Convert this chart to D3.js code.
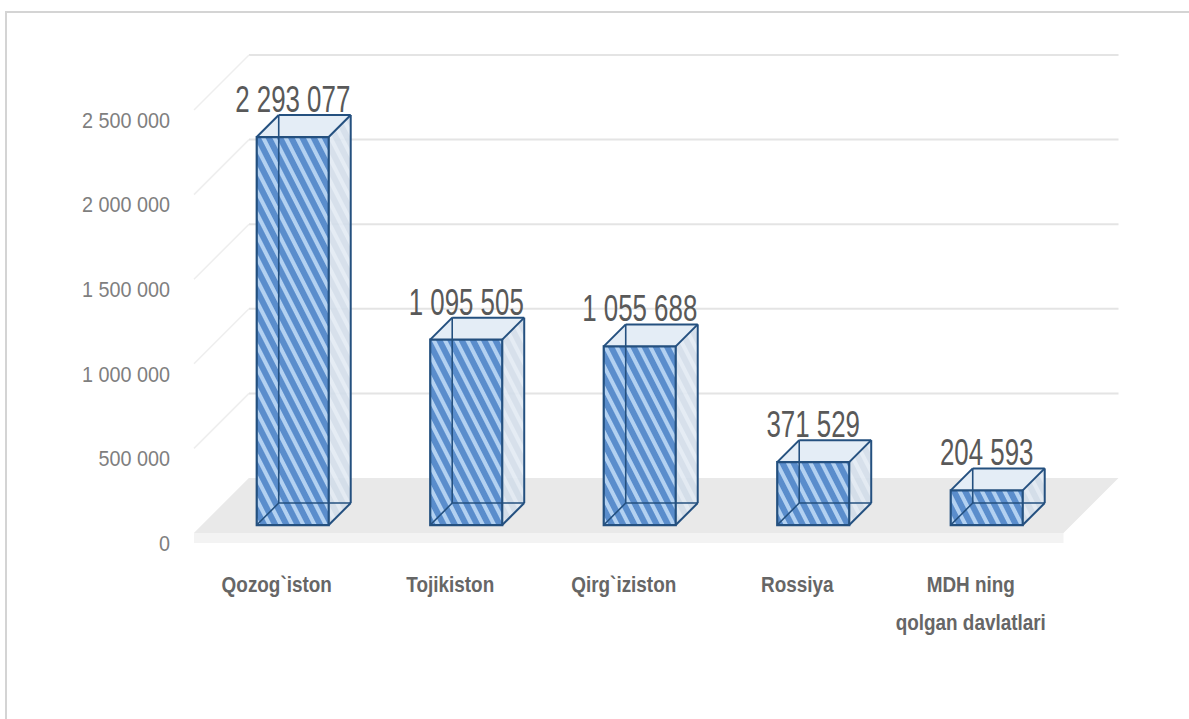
<!DOCTYPE html>
<html>
<head>
<meta charset="utf-8">
<script src="https://cdn.jsdelivr.net/npm/d3@7/dist/d3.min.js"></script>
<style>
  html, body { margin: 0; padding: 0; background: #ffffff; }
  svg { display: block; }
</style>
</head>
<body>
<svg id="chart" width="1189" height="719"></svg>
<script>
// Export volumes to CIS countries
const categories = ["Qozog`iston", "Tojikiston", "Qirg`iziston", "Rossiya", "MDH ning\nqolgan davlatlari"];
const values = [2293077, 1095505, 1055688, 371529, 204593];
const valueLabels = ["2 293 077", "1 095 505", "1 055 688", "371 529", "204 593"];
const yTicks = [0, 500000, 1000000, 1500000, 2000000, 2500000];
const yTickLabels = ["0", "500 000", "1 000 000", "1 500 000", "2 000 000", "2 500 000"];

const W = 1189, H = 719;
const svg = d3.select("#chart");

// 3D projection: depth runs up and to the right at 45 degrees
const DEPTH = 55;
const x = d3.scaleBand().domain(categories).range([198, 1065.5]).paddingInner(0).paddingOuter(0);
const y = d3.scaleLinear().domain([0, 2500000]).range([533, 110]);
const proj = (px, v, z) => [px + z * DEPTH, y(v) - z * DEPTH];
const pts = arr => arr.map(p => p.join(",")).join(" ");

const defs = svg.append("defs");
const stripe = defs.append("pattern")
  .attr("id", "stripe").attr("patternUnits", "userSpaceOnUse")
  .attr("width", 10).attr("height", 10)
  .attr("patternTransform", "rotate(-27)");
stripe.append("rect").attr("width", 10).attr("height", 10).attr("fill", "#5a8dcc");
stripe.append("rect").attr("width", 4).attr("height", 10).attr("fill", "#b3d1f1");

const stripeSide = defs.append("pattern")
  .attr("id", "stripeSide").attr("patternUnits", "userSpaceOnUse")
  .attr("width", 10).attr("height", 10)
  .attr("patternTransform", "rotate(-27)");
stripeSide.append("rect").attr("width", 10).attr("height", 10).attr("fill", "#d2dde9");
stripeSide.append("rect").attr("width", 4).attr("height", 10).attr("fill", "#e2eaf3");

// chart frame
svg.append("rect")
  .attr("x", 6).attr("y", 12).attr("width", W + 20).attr("height", H + 20)
  .attr("fill", "none").attr("stroke", "#d4d4d4").attr("stroke-width", 2);

const [xL, xR] = x.range();
const floorL = xL - 4, floorR = xR - 2;

// back wall gridlines
const grid = svg.append("g");
yTicks.forEach(t => {
  if (t === 0) return;
  const a = proj(floorL, t, 1), b = proj(floorR, t, 1);
  grid.append("line")
    .attr("x1", a[0]).attr("y1", a[1]).attr("x2", b[0]).attr("y2", b[1])
    .attr("stroke", "#e4e4e4").attr("stroke-width", 2);
  // side wall gridline
  const s0 = proj(floorL, t, 0), s1 = proj(floorL, t, 1);
  grid.append("line")
    .attr("x1", s0[0]).attr("y1", s0[1]).attr("x2", s1[0]).attr("y2", s1[1])
    .attr("stroke", "#eeeeee").attr("stroke-width", 1.5);
});

// floor slab
const floor = svg.append("g");
const TH = 10;
floor.append("polygon")
  .attr("points", pts([
    [floorL, y(0)], [floorL, y(0) + TH],
    [floorL + DEPTH, y(0) + TH - DEPTH], [floorL + DEPTH, y(0) - DEPTH]]))
  .attr("fill", "#f3f3f3");
floor.append("rect")
  .attr("x", floorL).attr("y", y(0)).attr("width", floorR - floorL).attr("height", TH)
  .attr("fill", "#f3f3f3");
floor.append("polygon")
  .attr("points", pts([proj(floorL, 0, 0), proj(floorR, 0, 0), proj(floorR, 0, 1), proj(floorL, 0, 1)]))
  .attr("fill", "#e9e9e9");

// y axis labels
const yAxis = svg.append("g");
yTicks.forEach((t, i) => {
  yAxis.append("text")
    .attr("transform", `translate(170,${y(t) + 10}) scale(0.9,1)`)
    .attr("text-anchor", "end").attr("dominant-baseline", "central")
    .attr("font-family", "Liberation Sans, Arial, sans-serif")
    .attr("font-size", 22).attr("fill", "#7f7f7f")
    .text(yTickLabels[i]);
});

// bars
const Z0 = 0.145, Z1 = 0.545, HALF = 36;
const EDGE = "#24507f";
const bars = svg.append("g");
categories.forEach((c, i) => {
  const v = values[i];
  const cx = x(c) + x.bandwidth() / 2;
  const l = cx - HALF, r = cx + HALF;
  const fbl = proj(l, 0, Z0), fbr = proj(r, 0, Z0), ftl = proj(l, v, Z0), ftr = proj(r, v, Z0);
  const bbl = proj(l, 0, Z1), bbr = proj(r, 0, Z1), btl = proj(l, v, Z1), btr = proj(r, v, Z1);
  const g = bars.append("g");
  // right side face
  g.append("polygon").attr("points", pts([fbr, bbr, btr, ftr])).attr("fill", "url(#stripeSide)").attr("opacity", 0.9);
  // top face
  g.append("polygon").attr("points", pts([ftl, ftr, btr, btl])).attr("fill", "#e4edf6");
  // front face
  g.append("polygon").attr("points", pts([fbl, fbr, ftr, ftl])).attr("fill", "url(#stripe)");
  // hidden edges seen through the glassy box
  const hidden = [[bbl, btl], [bbl, bbr], [fbl, bbl]];
  hidden.forEach(([a, b]) => g.append("line")
    .attr("x1", a[0]).attr("y1", a[1]).attr("x2", b[0]).attr("y2", b[1])
    .attr("stroke", EDGE).attr("stroke-width", 1.6));
  // visible edges
  g.append("polygon").attr("points", pts([fbl, fbr, ftr, ftl]))
    .attr("fill", "none").attr("stroke", EDGE).attr("stroke-width", 2.2);
  const vis = [[ftl, btl], [btl, btr], [ftr, btr], [btr, bbr], [fbr, bbr]];
  vis.forEach(([a, b]) => g.append("line")
    .attr("x1", a[0]).attr("y1", a[1]).attr("x2", b[0]).attr("y2", b[1])
    .attr("stroke", EDGE).attr("stroke-width", 2));

  // value label above the bar
  const lx = (ftl[0] + ftr[0]) / 2;
  svg.append("text")
    .attr("transform", `translate(${lx},${btl[1] - 3}) scale(0.7,1)`)
    .attr("text-anchor", "middle")
    .attr("font-family", "Liberation Sans, Arial, sans-serif")
    .attr("font-size", 37).attr("fill", "#595959")
    .text(valueLabels[i]);
});

// category labels
const cat = svg.append("g");
categories.forEach(c => {
  const cx = x(c) + x.bandwidth() / 2 - 8;
  const lines = c.split("\n");
  lines.forEach((ln, k) => {
    cat.append("text")
      .attr("transform", `translate(${cx},${592 + k * 38}) scale(0.86,1)`)
      .attr("text-anchor", "middle")
      .attr("font-family", "Liberation Sans, Arial, sans-serif")
      .attr("font-weight", "bold")
      .attr("font-size", 22).attr("fill", "#666666")
      .text(ln);
  });
});
</script>
</body>
</html>
